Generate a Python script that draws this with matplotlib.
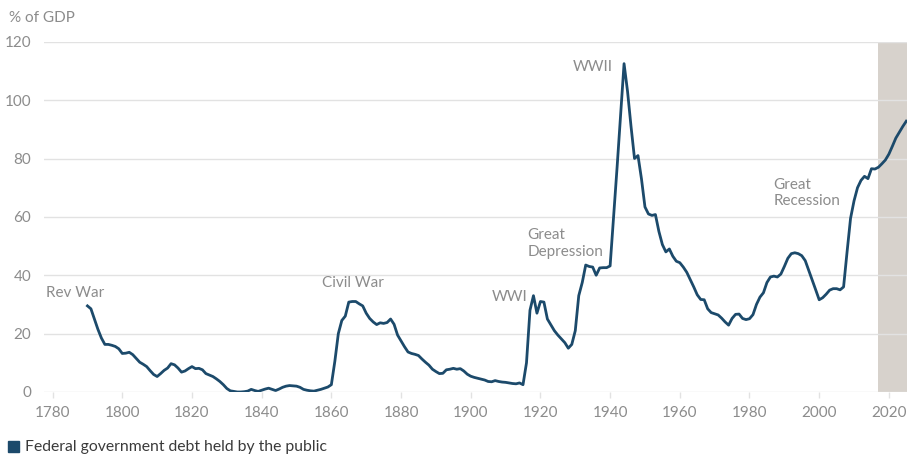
import matplotlib.pyplot as plt
from matplotlib.patches import Rectangle

# Federal debt held by the public, % of GDP
years = list(range(1790, 2026))
debt = [
    # 1790-1799
    29.5, 28.5, 25.0, 21.5, 18.5, 16.3, 16.3, 16.0, 15.6, 14.8,
    # 1800-1809
    13.2, 13.3, 13.6, 12.8, 11.5, 10.2, 9.5, 8.7, 7.3, 6.0,
    # 1810-1819
    5.3, 6.3, 7.4, 8.2, 9.7, 9.3, 8.2, 6.8, 7.2, 8.0,
    # 1820-1829
    8.7, 8.0, 8.1, 7.6, 6.3, 5.8, 5.3, 4.5, 3.6, 2.5,
    # 1830-1839
    1.2, 0.4, 0.2, 0.0, 0.0, 0.1, 0.3, 0.9, 0.5, 0.2,
    # 1840-1849
    0.6, 1.0, 1.3, 0.9, 0.5, 1.0, 1.6, 2.0, 2.2, 2.1,
    # 1850-1859
    2.0, 1.6, 0.9, 0.6, 0.4, 0.3, 0.6, 0.9, 1.3, 1.7,
    # 1860-1869
    2.5, 10.5, 20.0, 24.5, 26.0, 30.8, 31.0, 31.0, 30.2, 29.5,
    # 1870-1879
    27.0, 25.2, 24.0, 23.1, 23.7, 23.5, 23.8, 25.0, 23.2, 19.5,
    # 1880-1889
    17.5, 15.5, 13.7, 13.2, 12.9, 12.5, 11.3, 10.2, 9.2, 7.8,
    # 1890-1899
    7.0, 6.3, 6.4, 7.6, 7.8, 8.1, 7.8, 8.0, 7.2, 6.1,
    # 1900-1909
    5.4, 5.0, 4.7, 4.4, 4.1, 3.6, 3.5, 3.9, 3.6, 3.4,
    # 1910-1919
    3.3, 3.1, 2.9, 2.8, 3.1, 2.5, 10.0, 28.0, 33.0, 27.0,
    # 1920-1929
    31.0, 30.8, 25.0, 23.0, 21.0, 19.5, 18.2, 16.9, 15.0, 16.3,
    # 1930-1939
    21.0, 33.0, 37.5, 43.5, 43.0, 42.8, 40.0, 42.5, 42.6, 42.6,
    # 1940-1949
    43.2, 60.0, 77.0, 95.0, 112.5, 103.0, 91.0, 80.0, 81.0, 73.0,
    # 1950-1959
    63.4, 61.0, 60.5, 60.8, 55.0, 50.5, 48.0, 49.0, 46.5, 44.8,
    # 1960-1969
    44.3, 42.8, 41.0, 38.5, 36.0, 33.3, 31.7, 31.6, 28.5, 27.2,
    # 1970-1979
    26.8, 26.4, 25.3, 24.0, 22.9, 25.2, 26.6, 26.7, 25.2, 24.8,
    # 1980-1989
    25.1, 26.5, 30.0, 32.5, 34.0, 37.5, 39.4, 39.7, 39.4, 40.4,
    # 1990-1999
    43.0, 45.8, 47.4, 47.7, 47.4, 46.7, 45.0, 41.7, 38.5, 35.0,
    # 2000-2009
    31.6, 32.3, 33.5, 34.9, 35.4, 35.4, 35.0, 36.0, 48.0, 59.5,
    # 2010-2019
    65.5, 70.0, 72.5, 73.9, 73.1, 76.5, 76.4, 77.0, 78.2, 79.5,
    # 2020-2025
    81.5, 84.2, 87.0, 89.0, 91.0, 92.8,
]

projection_start = 2017
x_ticks = list(range(1780, 2021, 20))
y_ticks = [0, 20, 40, 60, 80, 100, 120]

annotations = [
    ("Rev War", 1778.1, 33.8, "left"),
    ("Civil War", 1857.3, 37.2, "left"),
    ("WWI", 1916.2, 32.7, "right"),
    ("Great\nDepression", 1916.3, 50.9, "left"),
    ("WWII", 1940.9, 111.4, "right"),
    ("Great\nRecession", 1986.8, 68.2, "left"),
]

line_color = "#1c4a6b"
gray = "#8c8c8c"
grid_color = "#e2e2e2"

plt.rcParams['font.family'] = ['Lato', 'DejaVu Sans']

fig = plt.figure(figsize=(9.07, 4.54), dpi=100)
ax = fig.add_axes([0.048, 0.1366, 0.952, 0.7714])

ax.set_xlim(1777.4, 2025.2)
ax.set_ylim(0, 120)

# shaded projection period
ax.axvspan(projection_start, 2025.2, color="#d7d2cc", lw=0, zorder=0)

for y in y_ticks:
    ax.axhline(y, color=grid_color, lw=1, zorder=1)

ax.plot(years, debt, color=line_color, lw=2.0, zorder=3, solid_joinstyle='round')

for label, x, y, ha in annotations:
    ax.text(x, y, label, ha=ha, va="center", fontsize=11, color=gray,
            linespacing=1.25, zorder=4)

for s in ax.spines.values():
    s.set_visible(False)

ax.set_xticks(x_ticks)
ax.set_yticks(y_ticks)
ax.tick_params(axis='x', length=4, width=1, color=grid_color, labelcolor=gray,
               labelsize=11, pad=6)
ax.tick_params(axis='y', length=0, labelcolor=gray, labelsize=11, pad=9)

fig.text(9 / 907, 1 - 18 / 454, "% of GDP", fontsize=11, color=gray,
         ha="left", va="center")

# legend
fig.patches.append(Rectangle((8 / 907, 1 - 452 / 454), 11 / 907, 11 / 454,
                             transform=fig.transFigure, color=line_color))
fig.text(25 / 907, 1 - 446.5 / 454, "Federal government debt held by the public",
         fontsize=11.3, color="#3a3a3a", ha="left", va="center")

fig.savefig("out.png", dpi=100)
